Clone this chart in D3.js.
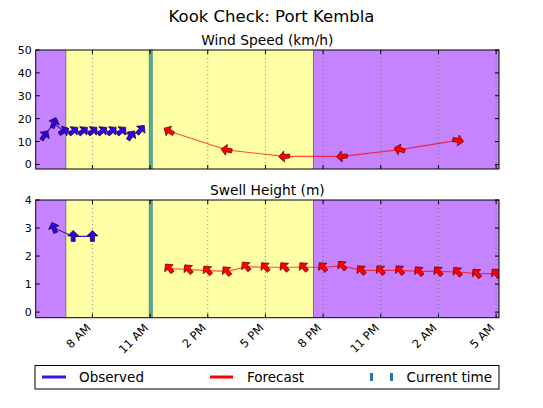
<!DOCTYPE html>
<html><head><meta charset="utf-8">
<script src="https://cdn.jsdelivr.net/npm/d3@7"></script>
<style>body{margin:0;background:#fff}svg{display:block;font-family:"DejaVu Sans",sans-serif}</style>
</head><body><svg id="c" width="543" height="408"></svg>
<script>
// ---- data ----
const day = "2020-01-01", nextDay = "2020-01-02";
const windObsTimes = ["05:30","06:00","06:30","07:00","07:30","08:00","08:30","09:00","09:30","10:00","10:30"];
const windObsValues = [12.5, 18, 14.5, 14.5, 14.5, 14.5, 14.5, 14.5, 14.5, 12.5, 15];
const windObsDir = [35, 20, 60, 50, 50, 50, 50, 50, 50, 35, 40];
const windFcTimes = ["12:00","15:00","18:00","21:00","00:00+","03:00+"];
const windFcValues = [14.5, 6.3, 3.5, 3.5, 6.5, 10.5];
const windFcDir = [-60, -80, -95, -95, -75, 100];
const swellObsTimes = ["06:00","07:00","08:00"];
const swellObsValues = [3.0, 2.7, 2.7];
const swellObsDir = [-20, 0, 0];
const swellFcTimes = ["12:00","13:00","14:00","15:00","16:00","17:00","18:00","19:00","20:00","21:00","22:00","23:00","00:00+","01:00+","02:00+","03:00+","04:00+","05:00+"];
const swellFcValues = [1.55, 1.52, 1.48, 1.45, 1.62, 1.6, 1.6, 1.6, 1.6, 1.65, 1.49, 1.49, 1.49, 1.45, 1.45, 1.43, 1.37, 1.37];
const swellFcDir = [-40,-40,-40,-40,-40,-40,-40,-40,-40,-40,-40,-40,-40,-40,-40,-40,-40,-40];
const xTickTimes = ["08:00","11:00","14:00","17:00","20:00","23:00","02:00+","05:00+"];
const xTickLabels = ["8 AM","11 AM","2 PM","5 PM","8 PM","11 PM","2 AM","5 AM"];
const windTicks = [0,10,20,30,40,50];
const swellTicks = [0,1,2,3,4];
const domainStart = "05:03", domainEnd = "05:09+";
const sunrise = "06:37", sunset = "19:30";
const currentTime = "11:02";

const T = s => { const nd = s.endsWith("+"); const hm = s.replace("+",""); return new Date((nd?nextDay:day)+"T"+hm+":00"); };

const svg = d3.select("#c");
const L = 35.7, R = 499;
const x = d3.scaleTime().domain([T(domainStart), T(domainEnd)]).range([L, R]);

const purple = "#c683ff", yellow = "#ffffa6";
const arrowPath = "M0,-6 L5.5,-0.5 L2,-0.5 L2,5 L-2,5 L-2,-0.5 L-5.5,-0.5 Z";

svg.append("text").attr("x",271.5).attr("y",22).attr("text-anchor","middle").attr("font-size",16.5).text("Kook Check: Port Kembla");

function panel(id, top, bottom, ydom, yticks, title, obsT, obsV, obsD, fcT, fcV, fcD) {
  const y = d3.scaleLinear().domain(ydom).range([bottom, top]);
  const g = svg.append("g");
  svg.append("clipPath").attr("id", id).append("rect").attr("x",L).attr("y",top).attr("width",R-L).attr("height",bottom-top);
  const pg = g.append("g").attr("clip-path", `url(#${id})`);
  pg.append("rect").attr("x",L).attr("y",top).attr("width",R-L).attr("height",bottom-top).attr("fill",purple);
  pg.append("rect").attr("x",x(T(sunrise))).attr("y",top).attr("width",x(T(sunset))-x(T(sunrise))).attr("height",bottom-top).attr("fill",yellow);
  [sunrise, sunset].forEach(s => pg.append("line").attr("x1",x(T(s))).attr("x2",x(T(s))).attr("y1",top).attr("y2",bottom).attr("stroke","#777").attr("stroke-width",1));
  xTickTimes.forEach(t => pg.append("line").attr("x1",x(T(t))).attr("x2",x(T(t))).attr("y1",top).attr("y2",bottom)
    .attr("stroke","#666").attr("stroke-width",0.8).attr("stroke-dasharray","1,3"));
  const cx = x(T(currentTime));
  pg.append("rect").attr("x",cx-1.5).attr("y",top).attr("width",3).attr("height",bottom-top).attr("fill","#4db3a0").attr("stroke","#3f6f78").attr("stroke-width",0.7);
  const line = d3.line().x(d=>x(T(d[0]))).y(d=>y(d[1]));
  pg.append("path").datum(fcT.map((t,i)=>[t,fcV[i]])).attr("d",line).attr("fill","none").attr("stroke","#ff0000").attr("stroke-opacity",0.7).attr("stroke-width",1.2);
  pg.append("path").datum(obsT.map((t,i)=>[t,obsV[i]])).attr("d",line).attr("fill","none").attr("stroke","#3b10e8").attr("stroke-width",1.2);
  fcT.forEach((t,i)=>pg.append("path").attr("d",arrowPath).attr("transform",`translate(${x(T(t))},${y(fcV[i])}) rotate(${fcD[i]})`)
    .attr("fill","#ff0000").attr("stroke","#660000").attr("stroke-width",0.7));
  obsT.forEach((t,i)=>pg.append("path").attr("d",arrowPath).attr("transform",`translate(${x(T(t))},${y(obsV[i])}) rotate(${obsD[i]})`)
    .attr("fill","#3300dd").attr("stroke","#110044").attr("stroke-width",0.7));
  g.append("rect").attr("x",L).attr("y",top).attr("width",R-L).attr("height",bottom-top).attr("fill","none").attr("stroke","#000").attr("stroke-width",1);
  yticks.forEach(v => {
    const yy = y(v);
    g.append("line").attr("x1",L).attr("x2",L+4).attr("y1",yy).attr("y2",yy).attr("stroke","#000");
    g.append("line").attr("x1",R).attr("x2",R-4).attr("y1",yy).attr("y2",yy).attr("stroke","#000");
    g.append("text").attr("x",L-4).attr("y",yy+4).attr("text-anchor","end").attr("font-size",11).text(v);
  });
  xTickTimes.forEach(t => {
    const xx = x(T(t));
    g.append("line").attr("x1",xx).attr("x2",xx).attr("y1",bottom).attr("y2",bottom-4).attr("stroke","#000");
    g.append("line").attr("x1",xx).attr("x2",xx).attr("y1",top).attr("y2",top+4).attr("stroke","#000");
  });
  g.append("text").attr("x",(L+R)/2).attr("y",top-5).attr("text-anchor","middle").attr("font-size",13.8).text(title);
  return {y, bottom};
}

panel("c1", 50, 169, [-2,50], windTicks, "Wind Speed (km/h)", windObsTimes, windObsValues, windObsDir, windFcTimes, windFcValues, windFcDir);
const p2 = panel("c2", 200, 317.7, [-0.2,4], swellTicks, "Swell Height (m)", swellObsTimes, swellObsValues, swellObsDir, swellFcTimes, swellFcValues, swellFcDir);

xTickTimes.forEach((t,i) => {
  const xx = x(T(t));
  svg.append("text").attr("transform",`translate(${xx-1},${p2.bottom+11}) rotate(-45)`).attr("text-anchor","end").attr("font-size",11.5).text(xTickLabels[i]);
});

const lg = svg.append("g");
lg.append("rect").attr("x",35).attr("y",365.5).attr("width",464).attr("height",23.5).attr("fill","#fff").attr("stroke","#000").attr("stroke-width",1);
lg.append("line").attr("x1",42).attr("x2",66).attr("y1",377).attr("y2",377).attr("stroke","#3b10ff").attr("stroke-width",3);
lg.append("text").attr("x",79).attr("y",382).attr("font-size",13.5).text("Observed");
lg.append("line").attr("x1",210).attr("x2",233).attr("y1",377).attr("y2",377).attr("stroke","#ff0000").attr("stroke-width",3);
lg.append("text").attr("x",247).attr("y",382).attr("font-size",13.5).text("Forecast");
[370,390].forEach(xx => lg.append("rect").attr("x",xx).attr("y",373).attr("width",3).attr("height",8).attr("fill","#1f77b4"));
lg.append("text").attr("x",406.5).attr("y",382).attr("font-size",13.5).text("Current time");
</script></body></html>
